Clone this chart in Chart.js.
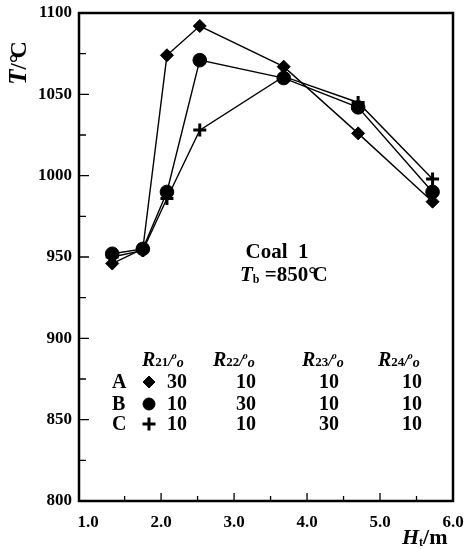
<!DOCTYPE html>
<html>
<head>
<meta charset="utf-8">
<script src="https://cdn.jsdelivr.net/npm/chart.js@4.4.1/dist/chart.umd.min.js"></script>
<style>
  html, body { margin: 0; padding: 0; background: #fff; }
  #wrap { width: 464px; height: 549px; position: relative; }
</style>
</head>
<body>
<div id="wrap"><canvas id="c"></canvas></div>
<script>
// Measurement heights (m) and gas temperatures (°C) for the three feed ratios
const heights = [1.33, 1.75, 2.08, 2.53, 3.68, 4.70, 5.72];
const tempA = [946, 955, 1074, 1092, 1067, 1026, 984];
const tempB = [952, 955, 990, 1071, 1060, 1042, 990];
const tempC = [950, 954, 986, 1028, 1061, 1045, 998];

// Axis tick labels and tick marks
const xTickLabels = [1, 2, 3, 4, 5, 6];
const yTickLabels = [800, 850, 900, 950, 1000, 1050, 1100];
const xMajorMarks = [2, 3, 4, 5];
const xMinorMarks = [1.5, 2.5, 3.5, 4.5, 5.5];
const yMajorMarks = [850, 900, 950, 1000, 1050];
const yMinorMarks = [825, 875, 925, 975, 1025, 1075];

// Feed-ratio table (%)
const seriesNames = ['A', 'B', 'C'];
const seriesMarkers = ['rectRot', 'circle', 'cross'];
const r21 = [30, 10, 10];
const r22 = [10, 30, 10];
const r23 = [10, 10, 30];
const r24 = [10, 10, 10];

const SERIF = '"Liberation Serif", "Times New Roman", serif';
const f = (size, style) => (style || 'bold') + ' ' + size + 'px ' + SERIF;

// draw a sequence of differently styled text runs, return total width
function runsWidth(ctx, runs) {
  let w = 0;
  for (const r of runs) { ctx.font = r.font; w += ctx.measureText(r.t).width + (r.dx || 0); }
  return w;
}
function drawRuns(ctx, x, y, runs) {
  let cx = x;
  for (const r of runs) {
    ctx.font = r.font;
    cx += (r.dx || 0);
    ctx.fillText(r.t, cx, y + (r.dy || 0));
    cx += ctx.measureText(r.t).width;
  }
  return cx - x;
}
function headerRuns(sub) {
  return [
    { t: 'R', font: f(20, 'italic bold') },
    { t: sub, font: f(13) },
    { t: '/', font: f(16, 'italic bold') },
    { t: 'o', font: f(10, 'italic bold'), dy: -7, dx: -1 },
    { t: 'o', font: f(14, 'italic bold'), dy: 1 }
  ];
}
// degree sign set tight against the C
function celsius(size) {
  return [
    { t: '\u00B0', font: f(size) },
    { t: 'C', font: f(size), dx: -Math.round(size * 0.2) }
  ];
}

const decorations = {
  id: 'decorations',
  afterDraw(chart) {
    const ctx = chart.ctx;
    const a = chart.chartArea;
    const xs = chart.scales.x, ys = chart.scales.y;
    ctx.save();
    ctx.fillStyle = '#000';
    ctx.strokeStyle = '#000';

    // frame
    ctx.lineWidth = 2.5;
    ctx.strokeRect(a.left, a.top, a.right - a.left, a.bottom - a.top);

    // inward tick marks
    ctx.lineWidth = 1.3;
    ctx.beginPath();
    for (const v of yMajorMarks) { const p = ys.getPixelForValue(v); ctx.moveTo(a.left, p); ctx.lineTo(a.left + 10, p); }
    for (const v of yMinorMarks) { const p = ys.getPixelForValue(v); ctx.moveTo(a.left, p); ctx.lineTo(a.left + 7, p); }
    for (const v of xMajorMarks) { const p = xs.getPixelForValue(v); ctx.moveTo(p, a.bottom); ctx.lineTo(p, a.bottom - 8); }
    for (const v of xMinorMarks) { const p = xs.getPixelForValue(v); ctx.moveTo(p, a.bottom); ctx.lineTo(p, a.bottom - 5); }
    ctx.stroke();

    ctx.textAlign = 'left';
    ctx.textBaseline = 'alphabetic';

    // y axis title, rotated
    const yTitle = [
      { t: 'T', font: f(25, 'italic bold') },
      { t: '/', font: f(23) }
    ].concat(celsius(24));
    ctx.save();
    ctx.translate(20, 63);
    ctx.rotate(-Math.PI / 2);
    ctx.textBaseline = 'middle';
    drawRuns(ctx, -runsWidth(ctx, yTitle) / 2, 0, yTitle);
    ctx.restore();

    // x axis title
    drawRuns(ctx, 402, 544, [
      { t: 'H', font: f(22, 'italic bold') },
      { t: 't', font: f(12), dy: 2 },
      { t: '/m', font: f(22) }
    ]);

    // annotation
    ctx.font = f(21);
    ctx.textAlign = 'center';
    ctx.fillText('Coal  1', 277, 258);
    ctx.textAlign = 'left';
    drawRuns(ctx, 240, 281, [
      { t: 'T', font: f(21, 'italic bold') },
      { t: 'b', font: f(12), dy: 2 },
      { t: ' =850', font: f(21) }
    ].concat(celsius(21)));

    // feed-ratio table
    const headX = [142, 213, 302, 378];
    ['21', '22', '23', '24'].forEach((s, i) => drawRuns(ctx, headX[i], 366, headerRuns(s)));
    const rowY = [388, 410, 430];
    const colX = [177, 246, 329, 412];
    const cols = [r21, r22, r23, r24];
    seriesNames.forEach((name, i) => {
      ctx.font = f(20);
      ctx.textAlign = 'left';
      ctx.fillText(name, 112, rowY[i]);
      ctx.textAlign = 'center';
      cols.forEach((col, j) => ctx.fillText(String(col[i]), colX[j], rowY[i]));
      const style = seriesMarkers[i];
      ctx.lineWidth = style === 'cross' ? 3 : 1;
      Chart.helpers.drawPoint(ctx, { pointStyle: style, radius: style === 'cross' ? 6.5 : 6, borderWidth: ctx.lineWidth, rotation: 0 }, 149, rowY[i] - 6);
    });
    ctx.restore();
  }
};

const toPoints = ys => heights.map((x, i) => ({ x, y: ys[i] }));
const seriesStyle = (style, radius, pbw) => ({
  showLine: true,
  borderColor: '#000',
  backgroundColor: '#000',
  borderWidth: 1.4,
  pointStyle: style,
  pointRadius: radius,
  pointBorderWidth: pbw,
  pointBackgroundColor: '#000',
  pointBorderColor: '#000',
  tension: 0
});

const tickFont = { family: SERIF, weight: 'bold', size: 17 };

new Chart(document.getElementById('c'), {
  type: 'scatter',
  data: {
    datasets: [
      Object.assign({ label: 'A', data: toPoints(tempA) }, seriesStyle('rectRot', 6.5, 1)),
      Object.assign({ label: 'B', data: toPoints(tempB) }, seriesStyle('circle', 6.8, 1)),
      Object.assign({ label: 'C', data: toPoints(tempC) }, seriesStyle('cross', 6.5, 3))
    ]
  },
  options: {
    responsive: true,
    maintainAspectRatio: false,
    devicePixelRatio: 1,
    animation: false,
    layout: { padding: { left: 0, right: 11, top: 13, bottom: 0 } },
    plugins: { legend: { display: false }, tooltip: { enabled: false } },
    scales: {
      x: {
        type: 'linear',
        min: 0.875,
        max: 6,
        afterBuildTicks: s => { s.ticks = xTickLabels.map(v => ({ value: v })); },
        afterFit: s => { s.height = 48; s.paddingLeft = 0; s.paddingRight = 0; },
        grid: { display: false, drawTicks: false },
        border: { display: false },
        ticks: {
          color: '#000',
          font: tickFont,
          padding: 11,
          maxRotation: 0,
          autoSkip: false,
          callback: v => Number(v).toFixed(1)
        }
      },
      y: {
        type: 'linear',
        min: 800,
        max: 1100,
        afterBuildTicks: s => { s.ticks = yTickLabels.map(v => ({ value: v })); },
        afterFit: s => { s.width = 79; s.paddingTop = 0; s.paddingBottom = 0; },
        grid: { display: false, drawTicks: false },
        border: { display: false },
        ticks: {
          color: '#000',
          font: tickFont,
          padding: 7,
          autoSkip: false,
          callback: v => String(v)
        }
      }
    }
  },
  plugins: [decorations]
});
</script>
</body>
</html>
